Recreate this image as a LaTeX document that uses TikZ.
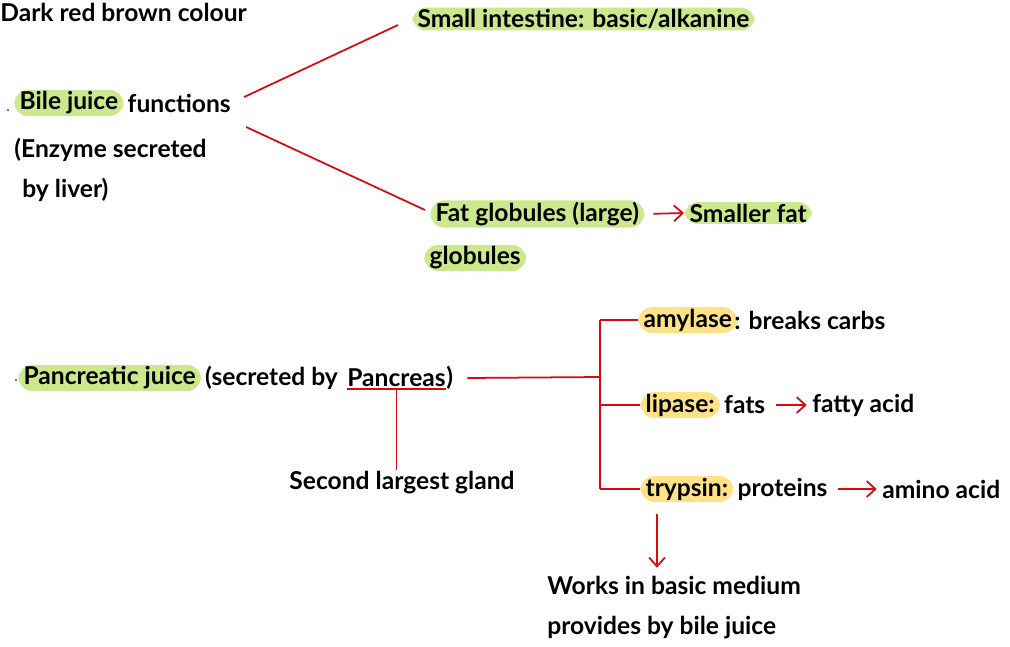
\documentclass[tikz,border=0pt]{standalone}
\usepackage{fontspec}
\setmainfont{Lato}
\usetikzlibrary{positioning,calc,arrows.meta}

\definecolor{hlgreen}{RGB}{203,233,140}
\definecolor{hlyellow}{RGB}{255,226,134}
\definecolor{inkred}{RGB}{214,10,16}

\begin{document}
\begin{tikzpicture}[x=0.02cm, y=-0.02cm, >={Straight Barb[length=5pt,width=9pt]},
    txt/.style={inner ysep=1pt, inner xsep=0pt, font=\bfseries\fontsize{14}{16}\selectfont},
    hlg/.style={txt, fill=hlgreen, rounded corners=8pt, inner xsep=3pt},
    hly/.style={txt, fill=hlyellow, rounded corners=8pt, inner xsep=3pt},
    redline/.style={draw=inkred, line width=1pt}]
    \useasboundingbox (0,0) rectangle (1010,646);

    % bile juice
    \node[txt, anchor=west] (dark) at (0,12) {Dark red brown colour};
    \node[hlg, anchor=west] (bile) at (14,103) {Bile juice};
    \node[txt, right=2pt of bile] (bilefn) {functions};
    \node[txt, anchor=west] (enzyme) at (14,150) {(Enzyme secreted};
    \node[txt, anchor=west] (liver) at (22,190) {by liver)};
    \fill[inkred] (8,110) circle (1.2);

    \node[hlg, anchor=west] (small) at (412,19) {Small intestine: basic/alkanine};
    \node[hlg, anchor=west] (fat) at (430,214) {Fat globules (large)};
    \node[hlg, anchor=west] (smaller) at (684,213) {Smaller fat};
    \node[hlg, anchor=west] (glob) at (424,258) {globules};

    \draw[redline] ($(bilefn.east)+(13,-6)$) -- ($(small.west)+(-14,6)$);
    \draw[redline] ($(bilefn.east)+(15,24)$) -- ($(fat.west)+(-5,-4)$);
    \draw[redline, ->, shorten <=5pt] (fat.east) -- (smaller.west);

    % pancreatic juice
    \node[hlg, anchor=west] (panc) at (18,378) {Pancreatic juice};
    \node[txt, right=2pt of panc] (secr) {(secreted by};
    \node[txt, right=5pt of secr] (pancreas) {Pancreas};
    \node[txt, right=0pt of pancreas] (paren) {)};
    \fill[inkred] (16,380) circle (1.2);
    \node[txt] (gland) at (402,483) {Second largest gland};
    \draw[redline] (pancreas.south west) -- (pancreas.south east);
    \draw[redline] (pancreas.south) -- (pancreas.south |- gland.north);

    \coordinate (brk) at (600,377);
    \node[hly, anchor=west] (amy) at (638,320) {amylase};
    \node[txt, right=-2pt of amy] (carbs) {: breaks carbs};
    \node[hly, anchor=west] (lip) at (640,405) {lipase:};
    \node[txt, right=2pt of lip] (fats) {fats};
    \node[txt, anchor=west] (fatty) at (812,405) {fatty acid};
    \node[hly, anchor=west] (try) at (640,489) {trypsin:};
    \node[txt, right=2pt of try] (prot) {proteins};
    \node[txt, anchor=west] (amino) at (882,489) {amino acid};
    \node[txt, anchor=west] (works) at (547,585) {Works in basic medium};
    \node[txt, anchor=west] (bilemed) at (547,628) {provides by bile juice};

    \draw[redline] ($(paren.east)+(14,0)$) -- (brk);
    \draw[redline] (brk |- amy) -- (brk |- try);
    \draw[redline] (brk |- amy) -- (amy.west);
    \draw[redline] (brk |- lip) -- (lip.west);
    \draw[redline] (brk |- try) -- (try.west);
    \draw[redline, ->, shorten <=6pt, shorten >=3pt] (fats.east) -- (fatty.west);
    \draw[redline, ->, shorten <=6pt, shorten >=3pt] (prot.east) -- (amino.west);
    \draw[redline, ->] ($(try.south west)+(17,12)$) -- ($(works.north west)+(110,-6)$);
\end{tikzpicture}
\end{document}
